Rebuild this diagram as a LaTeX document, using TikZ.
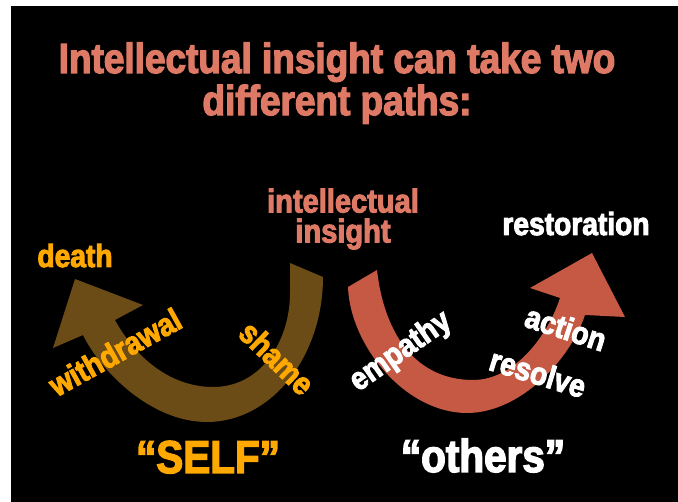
\documentclass[tikz,border=0pt]{standalone}
\usepackage{fontspec}
\setmainfont{Liberation Sans}[FakeStretch=0.88,BoldFeatures={FakeBold=3}]
\usetikzlibrary{positioning}
\definecolor{salmon}{RGB}{221,121,101}
\definecolor{selfbrown}{RGB}{107,75,22}
\definecolor{selforange}{RGB}{255,168,0}
\definecolor{otherred}{RGB}{197,89,67}

\begin{document}
\begin{tikzpicture}[x=1pt,y=-1pt,
                    word/.style={inner sep=0pt,font=\fontsize{32}{32}\selectfont\bfseries},
                    head/.style={inner sep=0pt,font=\fontsize{42}{42}\selectfont\bfseries,text=salmon},
                    path/.style={inner sep=0pt,font=\fontsize{46}{46}\selectfont\bfseries}]

  \useasboundingbox (0,0) rectangle (678,502);
  \fill[white] (0,0) rectangle (678,502);
  \fill[black] (11,6) rectangle (678,502);

  % the two arrows
  \fill[selfbrown] (290,263) -- (323,277) .. controls (323,357) and (271,422) .. (207,422)
        .. controls (150,422) and (100,370) .. (83,335) -- (53,348) -- (75,279) -- (143,305)
        -- (115,320) .. controls (135,357) and (170,387) .. (213,387)
        .. controls (262,387) and (290,340) .. (290,293) -- cycle;
  \fill[otherred] (348,287) -- (377,270) .. controls (385,340) and (420,380) .. (473,380)
        .. controls (515,380) and (548,335) .. (560,298) -- (530,288) -- (592,253) -- (625,317)
        -- (585,315) .. controls (570,360) and (520,413) .. (467,413)
        .. controls (405,413) and (350,345) .. (348,287) -- cycle;

  \node[head,anchor=base]  (T1) at (337,73)          {Intellectual insight can take two};
  \node[head]              (T2) [below of=T1,node distance=42pt] {different paths:};

  \node[word,text=salmon,align=center,font=\fontsize{33}{30}\selectfont\bfseries]
                           (I)  at (343,219)         {intellectual\\insight};
  \node[word,text=selforange,anchor=base] (D) at (75,267)  {death};
  \node[word,text=white,anchor=base]      (R) at (576,235) {restoration};

  \node[word,text=selforange,rotate=29]   (W) at (115,352) {withdrawal};
  \node[word,text=selforange,rotate=-44]  (S) at (277,358) {shame};
  \node[word,text=white,rotate=35]        (E) at (401,352) {empathy};
  \node[word,text=white,rotate=-18]       (A) at (566,328) {action};
  \node[word,text=white,rotate=-17]       (V) at (538,373) {resolve};

  \node[path,text=selforange,anchor=base] (SELF) at (208,473) {“SELF”};
  \node[path,text=white,anchor=base]      (O)    at (483,472) {“others”};
\end{tikzpicture}
\end{document}
